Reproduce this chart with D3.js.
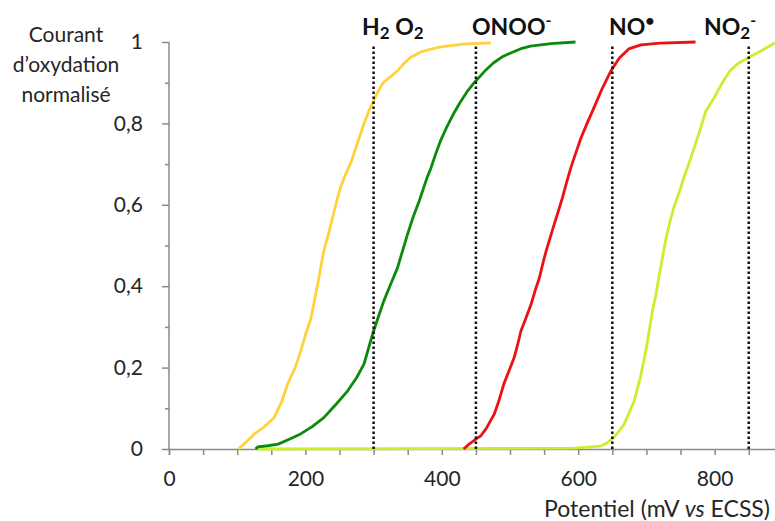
<!DOCTYPE html>
<html>
<head>
<meta charset="utf-8">
<script src="https://cdn.jsdelivr.net/npm/d3@7"></script>
<style>
  body { margin: 0; background: #fff; }
  svg { display: block; font-family: Lato, "Open Sans", sans-serif; }
</style>
</head>
<body>
<div id="viz"></div>
<script>
var width = 775;
var height = 521;

// curves: [potential mV, normalised current]
var h2o2 = [[102,0],[105,0.005],[115,0.02],[125,0.037],[140,0.055],[154,0.077],[165,0.115],[174,0.16],[185,0.2],[193,0.24],[200,0.28],[208,0.32],[218,0.405],[227,0.487],[234,0.53],[240,0.57],[246,0.61],[252,0.645],[259,0.675],[267,0.705],[276,0.75],[286,0.8],[293,0.83],[300,0.856],[307,0.88],[314,0.9],[325,0.915],[335,0.929],[345,0.948],[354,0.962],[370,0.976],[394,0.987],[430,0.995],[472,0.998]];
var onoo = [[127,0],[130,0.005],[145,0.008],[160,0.012],[178,0.025],[193,0.037],[210,0.055],[227,0.077],[245,0.11],[262,0.143],[275,0.175],[286,0.209],[293,0.25],[300,0.29],[308,0.33],[315,0.364],[325,0.405],[335,0.445],[343,0.49],[350,0.529],[358,0.57],[367,0.61],[378,0.665],[384,0.69],[391,0.725],[398,0.757],[407,0.79],[417,0.823],[427,0.852],[438,0.88],[446,0.897],[454,0.912],[465,0.932],[476,0.949],[488,0.963],[501,0.973],[515,0.983],[530,0.99],[560,0.996],[596,1.0]];
var no = [[432,0],[440,0.012],[452,0.027],[457,0.032],[465,0.05],[477,0.086],[484,0.12],[491,0.16],[498,0.19],[506,0.224],[511,0.255],[516,0.29],[523,0.32],[531,0.356],[537,0.39],[543,0.42],[548,0.455],[553,0.487],[559,0.52],[565,0.553],[571,0.585],[577,0.618],[583,0.655],[589,0.69],[597,0.73],[604,0.764],[613,0.8],[623,0.838],[635,0.885],[648,0.929],[660,0.96],[674,0.983],[692,0.993],[720,0.997],[772,1.0]];
var no2 = [[130,0],[595,0.002],[633,0.007],[642,0.015],[650,0.025],[658,0.04],[667,0.06],[675,0.09],[682,0.118],[691,0.175],[696,0.215],[701,0.258],[705,0.3],[709,0.34],[714,0.38],[718,0.42],[723,0.465],[728,0.512],[734,0.555],[740,0.593],[748,0.63],[755,0.667],[762,0.7],[770,0.74],[778,0.78],[787,0.83],[800,0.865],[813,0.905],[823,0.93],[835,0.948],[850,0.962],[870,0.98],[889,0.998]];

var curveColors = ["#FFD23C", "#0B8A0B", "#EE1111", "#CCEE2E"];

// dotted marker lines
var markerPos = [300, 450, 650, 850];

var xTicks = [0, 200, 400, 600, 800];
var xMinorTicks = d3.range(0, 900, 50);
var yTicks = [0, 0.2, 0.4, 0.6, 0.8, 1];
var yTickLabels = ["0", "0,2", "0,4", "0,6", "0,8", "1"];
var yMinorTicks = [0.1, 0.3, 0.5, 0.7, 0.9];

var svg = d3.select("#viz")
    .append("svg")
    .attr("width", width)
    .attr("height", height);

var x = d3.scaleLinear().domain([0, 890]).range([169, 776]);
var y = d3.scaleLinear().domain([0, 1]).range([449, 42]);

var axisColor = "#8a8a8a";
var textColor = "#262626";
var fontSize = "21px";

// x axis: minor ticks every 50, labels every 200
svg.append("g")
  .attr("transform", "translate(0," + y(0) + ")")
  .call(d3.axisBottom(x).tickValues(xMinorTicks).tickSize(6).tickFormat(""))
  .call(function(g) {
    g.select(".domain").attr("stroke", axisColor).attr("stroke-width", 1.5);
    g.selectAll(".tick line").attr("stroke", axisColor).attr("stroke-width", 1.5);
  });

svg.append("g")
  .attr("transform", "translate(0," + y(0) + ")")
  .call(d3.axisBottom(x).tickValues(xTicks).tickSize(0).tickPadding(22).tickFormat(d3.format("d")))
  .call(function(g) {
    g.select(".domain").remove();
    g.selectAll("text").attr("fill", textColor).style("font-size", fontSize)
      .style("font-family", "Lato, 'Open Sans', sans-serif");
  });

// y axis
svg.append("g")
  .attr("transform", "translate(" + x(0) + ",0)")
  .call(d3.axisLeft(y).tickValues(yMinorTicks).tickSize(4).tickFormat(""))
  .call(function(g) {
    g.select(".domain").remove();
    g.selectAll(".tick line").attr("stroke", axisColor).attr("stroke-width", 1.5);
  });

svg.append("g")
  .attr("transform", "translate(" + x(0) + ",0)")
  .call(d3.axisLeft(y).tickValues(yTicks).tickSize(7).tickPadding(19)
    .tickFormat(function(d, i) { return yTickLabels[i]; }))
  .call(function(g) {
    g.select(".domain").attr("stroke", axisColor).attr("stroke-width", 1.5)
      .attr("d", "M0," + y(0) + "V" + y(1));
    g.selectAll(".tick line").attr("stroke", axisColor).attr("stroke-width", 1.5);
    g.selectAll("text").attr("fill", textColor).style("font-size", fontSize)
      .style("font-family", "Lato, 'Open Sans', sans-serif");
  });

// curves
var line = d3.line()
  .x(function(d) { return x(d[0]); })
  .y(function(d) { return y(d[1]); });

var series = [no2, h2o2, onoo, no];
var seriesColors = [curveColors[3], curveColors[0], curveColors[1], curveColors[2]];

svg.selectAll(".curve")
  .data(series)
  .enter()
  .append("path")
  .attr("class", "curve")
  .attr("d", line)
  .attr("fill", "none")
  .attr("stroke", function(d, i) { return seriesColors[i]; })
  .attr("stroke-width", 2.8)
  .attr("stroke-linejoin", "round");

// dotted markers
svg.selectAll(".marker")
  .data(markerPos)
  .enter()
  .append("line")
  .attr("class", "marker")
  .attr("x1", function(d) { return x(d); })
  .attr("x2", function(d) { return x(d); })
  .attr("y1", y(0))
  .attr("y2", y(1) + 3)
  .attr("stroke", "#111")
  .attr("stroke-width", 2.5)
  .attr("stroke-dasharray", "2.5,2.5");

// species labels
function label(px, parts) {
  var t = svg.append("text")
    .attr("x", px)
    .attr("y", 35)
    .attr("fill", "#111")
    .style("font-weight", "bold")
    .style("font-size", "23px");
  parts.forEach(function(p) {
    var s = t.append("tspan").text(p[0]);
    if (p[1] == "sub") s.attr("dy", p[2] || 4).style("font-size", "17px");
    else if (p[1] == "sup") s.attr("dy", p[2] || -9).style("font-size", "16px");
    else if (p[1] == "back") s.attr("dy", p[2]);
  });
}

label(362, [["H"], ["2", "sub"], [" O", "back", -4], ["2", "sub"]]);
label(472, [["ONOO"], ["-", "sup"]]);
label(609, [["NO"], ["•", "sup"]]);
label(704, [["NO"], ["2", "sub"], ["-", "sup", -13]]);

// axis titles
svg.append("text")
  .attr("x", 66)
  .attr("fill", textColor)
  .style("font-size", fontSize)
  .attr("text-anchor", "middle")
  .selectAll("tspan")
  .data(["Courant", "d’oxydation", "normalisé"])
  .enter()
  .append("tspan")
  .attr("x", 66)
  .attr("y", function(d, i) { return 42 + i * 30; })
  .text(function(d) { return d; });

var xt = svg.append("text")
  .attr("x", 770)
  .attr("y", 517)
  .attr("text-anchor", "end")
  .attr("fill", textColor)
  .style("font-size", "23px");
xt.append("tspan").text("Potentiel (mV ");
xt.append("tspan").style("font-style", "italic").text("vs");
xt.append("tspan").text(" ECSS)");
</script>
</body>
</html>
